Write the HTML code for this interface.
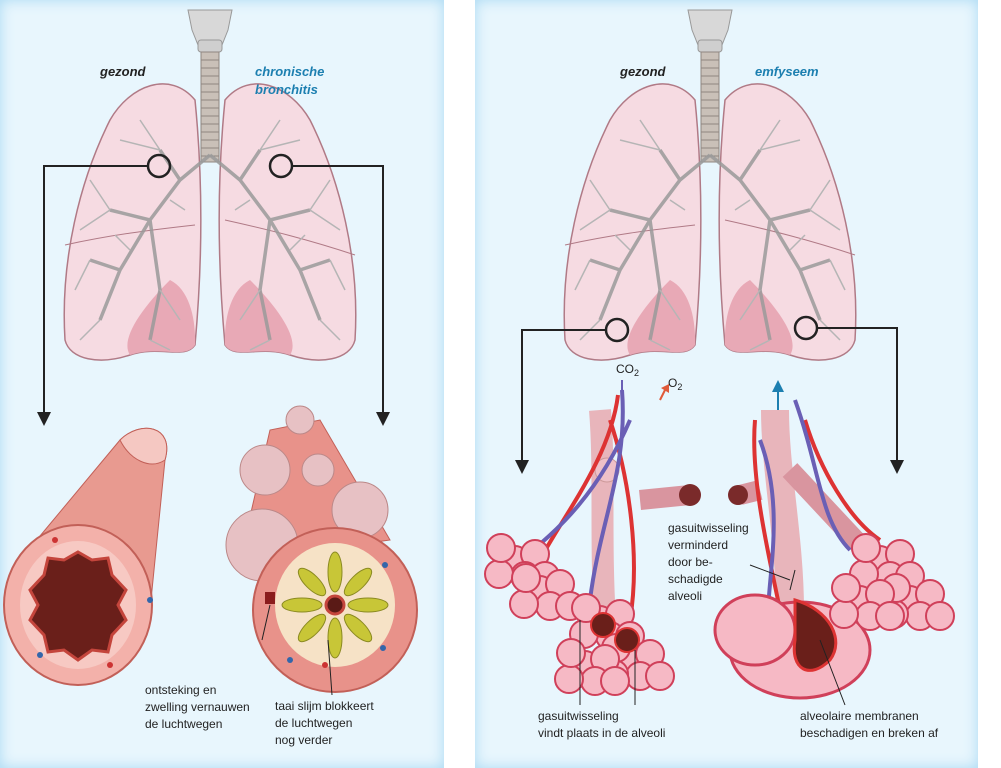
<!DOCTYPE html>
<html><head><meta charset="utf-8"><style>
body{margin:0;background:#fff;width:1001px;height:768px;overflow:hidden;font-family:"Liberation Sans",sans-serif}
.p{position:absolute;top:0;height:768px;background:#e8f6fd;box-shadow:inset 0 0 14px #a9d9f3}
</style></head><body>
<div class="p" style="left:0;width:444px"></div>
<div class="p" style="left:475px;width:503px"></div>
<svg width="1001" height="768" style="position:absolute;left:0;top:0" font-family="Liberation Sans, sans-serif">
<defs>
<g id="lungs">
 <path d="M-22,-130 L22,-130 L18,-110 L12,-95 L-12,-95 L-18,-110Z" fill="#d8d8d8" stroke="#999"/>
 <rect x="-12" y="-100" width="24" height="12" rx="3" fill="#cfcfcf" stroke="#999"/>
 <rect x="-9" y="-88" width="18" height="110" fill="#c9c0b8" stroke="#8f8680"/>
 <path d="M-9,-80h18M-9,-72h18M-9,-64h18M-9,-56h18M-9,-48h18M-9,-40h18M-9,-32h18M-9,-24h18M-9,-16h18M-9,-8h18M-9,0h18M-9,8h18M-9,16h18" stroke="#8f8680"/>
 <path d="M-15,-40 C-40,-70 -80,-55 -100,-20 C-130,40 -150,120 -145,200 C-140,220 -110,225 -80,215 C-50,205 -25,220 -15,205 C-10,150 -5,60 -15,-40Z" fill="#f6dbe2" stroke="#b07a86" stroke-width="1.5"/>
 <path d="M15,-40 C40,-70 80,-55 100,-20 C130,40 150,120 145,200 C140,220 110,225 80,215 C50,205 25,220 15,205 C10,150 5,60 15,-40Z" fill="#f6dbe2" stroke="#b07a86" stroke-width="1.5"/>
 <path d="M-40,140 C-70,170 -90,200 -80,215 C-50,205 -25,220 -15,205 C-14,180 -20,150 -40,140Z M40,140 C70,170 90,200 80,215 C50,205 25,220 15,205 C14,180 20,150 40,140Z" fill="#e8a9b6"/>
 <path d="M-145,105 C-100,95 -60,90 -15,85 M145,115 C100,100 60,90 15,80" stroke="#b07a86" fill="none"/>
 <g stroke="#9a9a9a" stroke-width="3.5" fill="none" opacity=".85">
  <path d="M0,15 L-30,40 L-60,80 L-90,130 L-110,180 M-60,80 L-100,70 M-30,40 L-50,10 M-60,80 L-50,150 L-60,200 M-90,130 L-120,120"/>
  <path d="M0,15 L30,40 L60,80 L90,130 L110,180 M60,80 L100,70 M30,40 L50,10 M60,80 L50,150 L60,200 M90,130 L120,120"/>
 </g>
 <g stroke="#b5b5b5" stroke-width="1.5" fill="none">
  <path d="M-50,10 L-70,-20 M-50,10 L-90,0 M-100,70 L-120,40 M-100,70 L-130,90 M-110,180 L-130,200 M-50,150 L-30,180 M-60,200 L-40,210 M-120,120 L-135,150 M-80,110 L-95,95 M-40,60 L-25,70"/>
  <path d="M50,10 L70,-20 M50,10 L90,0 M100,70 L120,40 M100,70 L130,90 M110,180 L130,200 M50,150 L30,180 M60,200 L40,210 M120,120 L135,150 M80,110 L95,95 M40,60 L25,70"/>
 </g>
</g>
<g id="cluster">
 <circle cx="0" cy="0" r="14" fill="#f6b9c5" stroke="#d0405a" stroke-width="2"/>
 <circle cx="20" cy="-6" r="14" fill="#f6b9c5" stroke="#d0405a" stroke-width="2"/>
 <circle cx="10" cy="16" r="14" fill="#f6b9c5" stroke="#d0405a" stroke-width="2"/>
 <circle cx="-16" cy="14" r="14" fill="#f6b9c5" stroke="#d0405a" stroke-width="2"/>
 <circle cx="-14" cy="-12" r="14" fill="#f6b9c5" stroke="#d0405a" stroke-width="2"/>
 <circle cx="30" cy="16" r="14" fill="#f6b9c5" stroke="#d0405a" stroke-width="2"/>
</g>
</defs>

<use href="#lungs" x="210" y="140"/>
<text x="100" y="76" font-size="13" font-weight="bold" font-style="italic" fill="#222">gezond</text>
<text x="255" y="76" font-size="13" font-weight="bold" font-style="italic" fill="#1c7fb0">chronische</text>
<text x="255" y="94" font-size="13" font-weight="bold" font-style="italic" fill="#1c7fb0">bronchitis</text>
<circle cx="159" cy="166" r="11" fill="none" stroke="#222" stroke-width="2.5"/>
<circle cx="281" cy="166" r="11" fill="none" stroke="#222" stroke-width="2.5"/>
<path d="M148,166 H44 V420" stroke="#222" stroke-width="2" fill="none"/><path d="M37,412 L51,412 L44,426Z" fill="#222"/>
<path d="M292,166 H383 V420" stroke="#222" stroke-width="2" fill="none"/><path d="M376,412 L390,412 L383,426Z" fill="#222"/>
<!-- healthy airway -->
<path d="M20,560 L120,440 C140,420 175,425 165,460 L150,610 Z" fill="#e89a90" stroke="#c26058"/>
<path d="M120,440 C140,420 175,425 165,460 C150,470 130,460 120,440Z" fill="#f5c8c2" stroke="#c26058"/>
<ellipse cx="78" cy="605" rx="74" ry="80" fill="#f3b1aa" stroke="#c26058" stroke-width="2"/>
<ellipse cx="78" cy="605" rx="58" ry="64" fill="#f7c9c3"/>
<path d="M78,552 L92,560 L108,558 L112,575 L126,590 L118,605 L126,620 L112,635 L108,652 L92,650 L78,660 L64,650 L48,652 L44,635 L30,620 L38,605 L30,590 L44,575 L48,558 L64,560Z" fill="#6a1f1a" stroke="#c4453c" stroke-width="3"/>
<circle cx="55" cy="540" r="3" fill="#c33"/><circle cx="150" cy="600" r="3" fill="#36a"/><circle cx="40" cy="655" r="3" fill="#36a"/><circle cx="110" cy="665" r="3" fill="#c33"/>
<!-- bronchitis airway -->
<path d="M240,560 L270,430 L320,420 L390,540Z" fill="#e8928a" stroke="#c26058"/>
<circle cx="262" cy="545" r="36" fill="#e7c1c4" stroke="#b88"/>
<circle cx="265" cy="470" r="25" fill="#e7c1c4" stroke="#b88"/>
<circle cx="300" cy="420" r="14" fill="#e7c1c4" stroke="#b88"/>
<circle cx="318" cy="470" r="16" fill="#e7c1c4" stroke="#b88"/>
<circle cx="360" cy="510" r="28" fill="#e7c1c4" stroke="#b88"/>
<ellipse cx="335" cy="610" rx="82" ry="82" fill="#e8928a" stroke="#c26058" stroke-width="2"/>
<ellipse cx="335" cy="605" rx="60" ry="62" fill="#f6e2c6"/>
<g fill="#c8c637" stroke="#8b8a22">
 <ellipse cx="335" cy="572" rx="7" ry="20"/><ellipse cx="335" cy="638" rx="7" ry="20"/>
 <ellipse cx="302" cy="605" rx="20" ry="7"/><ellipse cx="368" cy="605" rx="20" ry="7"/>
 <ellipse cx="312" cy="582" rx="7" ry="18" transform="rotate(-45 312 582)"/><ellipse cx="358" cy="582" rx="7" ry="18" transform="rotate(45 358 582)"/>
 <ellipse cx="312" cy="628" rx="7" ry="18" transform="rotate(45 312 628)"/><ellipse cx="358" cy="628" rx="7" ry="18" transform="rotate(-45 358 628)"/>
</g>
<circle cx="335" cy="605" r="9" fill="#5a1a16" stroke="#c4453c" stroke-width="3"/>
<rect x="265" y="592" width="10" height="12" fill="#8a1c1c"/>
<circle cx="385" cy="565" r="3" fill="#36a"/><circle cx="383" cy="648" r="3" fill="#36a"/><circle cx="325" cy="665" r="3" fill="#c33"/><circle cx="290" cy="660" r="3" fill="#36a"/>
<path d="M270,605 L262,640 M328,640 L332,695" stroke="#222"/>
<text font-size="12" fill="#222"><tspan x="145" y="694">ontsteking en</tspan><tspan x="145" y="711">zwelling vernauwen</tspan><tspan x="145" y="728">de luchtwegen</tspan></text>
<text font-size="12" fill="#222"><tspan x="275" y="710">taai slijm blokkeert</tspan><tspan x="275" y="727">de luchtwegen</tspan><tspan x="275" y="744">nog verder</tspan></text>

<!-- RIGHT PANEL -->
<use href="#lungs" x="710" y="140"/>
<text x="620" y="76" font-size="13" font-weight="bold" font-style="italic" fill="#222">gezond</text>
<text x="755" y="76" font-size="13" font-weight="bold" font-style="italic" fill="#1c7fb0">emfyseem</text>
<circle cx="617" cy="330" r="11" fill="none" stroke="#222" stroke-width="2.5"/>
<circle cx="806" cy="328" r="11" fill="none" stroke="#222" stroke-width="2.5"/>
<path d="M606,330 H522 V466" stroke="#222" stroke-width="2" fill="none"/><path d="M515,460 L529,460 L522,474Z" fill="#222"/>
<path d="M817,328 H897 V466" stroke="#222" stroke-width="2" fill="none"/><path d="M890,460 L904,460 L897,474Z" fill="#222"/>
<text x="616" y="373" font-size="12" fill="#222">CO<tspan font-size="9" dy="3">2</tspan></text>
<text x="668" y="387" font-size="12" fill="#222">O<tspan font-size="9" dy="3">2</tspan></text>
<path d="M622,380 L622,400" stroke="#6a5fb5" stroke-width="2"/>
<path d="M660,400 L666,388" stroke="#e05a3a" stroke-width="2"/><path d="M661,388 L669,384 L669,393Z" fill="#e05a3a"/>
<!-- healthy alveoli -->
<path d="M600,410 C605,470 600,540 605,620" stroke="#e8b5bb" stroke-width="22" fill="none"/>
<path d="M640,500 L690,495" stroke="#d9959f" stroke-width="20"/><circle cx="690" cy="495" r="11" fill="#7a2a2a"/>
<circle cx="607" cy="470" r="12" fill="#efc0c8" stroke="#c99"/>
<path d="M618,395 C610,460 560,520 540,560 M610,420 C630,480 640,560 630,620" stroke="#d33" stroke-width="4" fill="none"/>
<path d="M622,390 C628,470 600,520 590,600 M630,420 C600,490 560,530 520,560" stroke="#6a5fb5" stroke-width="4" fill="none"/>
<use href="#cluster" x="515" y="560"/><use href="#cluster" x="540" y="590"/><use href="#cluster" x="600" y="620"/><use href="#cluster" x="630" y="660"/><use href="#cluster" x="585" y="665"/>
<circle cx="603" cy="625" r="12" fill="#6a1f1a" stroke="#d33" stroke-width="2"/><circle cx="627" cy="640" r="12" fill="#6a1f1a" stroke="#d33" stroke-width="2"/>
<path d="M580,620 L580,705 M635,650 L635,705" stroke="#222"/>
<text font-size="12" fill="#222"><tspan x="538" y="720">gasuitwisseling</tspan><tspan x="538" y="737">vindt plaats in de alveoli</tspan></text>
<!-- emphysema -->
<path d="M775,410 C775,470 790,540 790,610" stroke="#e8b5bb" stroke-width="28" fill="none"/>
<path d="M760,490 L740,495" stroke="#d9959f" stroke-width="20"/><circle cx="738" cy="495" r="10" fill="#7a2a2a"/>
<path d="M790,470 L860,545" stroke="#d9959f" stroke-width="20"/>
<path d="M755,420 C750,480 770,560 780,610 M805,420 C820,470 850,520 880,540" stroke="#d33" stroke-width="4" fill="none"/>
<path d="M795,400 C820,470 820,520 850,550 M760,440 C790,520 760,600 770,640" stroke="#6a5fb5" stroke-width="4" fill="none"/>
<ellipse cx="800" cy="650" rx="70" ry="48" fill="#f6b9c5" stroke="#d0405a" stroke-width="3"/>
<ellipse cx="755" cy="630" rx="40" ry="35" fill="#f6b9c5" stroke="#d0405a" stroke-width="3"/>
<path d="M795,600 C830,610 845,640 830,660 C810,680 790,670 795,640Z" fill="#6a1f1a" stroke="#d33" stroke-width="3"/>
<use href="#cluster" x="880" y="560"/><use href="#cluster" x="910" y="600"/><use href="#cluster" x="860" y="600"/>
<path d="M778,385 L778,410" stroke="#1c7fb0" stroke-width="2"/><path d="M772,392 L778,380 L784,392Z" fill="#1c7fb0"/>
<path d="M750,565 L790,580 M795,570 L790,590 M820,640 L845,705" stroke="#222"/>
<text font-size="12" fill="#222"><tspan x="668" y="532">gasuitwisseling</tspan><tspan x="668" y="549">verminderd</tspan><tspan x="668" y="566">door be-</tspan><tspan x="668" y="583">schadigde</tspan><tspan x="668" y="600">alveoli</tspan></text>
<text font-size="12" fill="#222"><tspan x="800" y="720">alveolaire membranen</tspan><tspan x="800" y="737">beschadigen en breken af</tspan></text>
</svg>
</body></html>
